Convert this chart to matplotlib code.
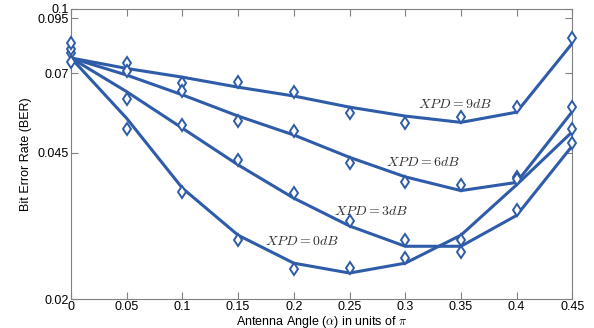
import matplotlib
matplotlib.use("Agg")
import matplotlib.pyplot as plt
from matplotlib.ticker import FixedLocator, NullLocator, FixedFormatter

plt.rcParams['font.family'] = ['Liberation Sans', 'DejaVu Sans']
plt.rcParams['mathtext.fontset'] = 'cm'

angle = [0, 0.05, 0.1, 0.15, 0.2, 0.25, 0.3, 0.35, 0.4, 0.45]

# analytical curves (lines)
line_9db = [0.0762, 0.0719, 0.0685, 0.0648, 0.0617, 0.0580, 0.0552, 0.0533, 0.0564, 0.0827]
line_6db = [0.0762, 0.0693, 0.0621, 0.0552, 0.0497, 0.0439, 0.0394, 0.0365, 0.0382, 0.0566]
line_3db = [0.0762, 0.0632, 0.0516, 0.0421, 0.0350, 0.0300, 0.0268, 0.0268, 0.0318, 0.0468]
line_0db = [0.0762, 0.0545, 0.0370, 0.0285, 0.0244, 0.0231, 0.0244, 0.0285, 0.0377, 0.0506]

# simulated points (markers)
sim_9db = [0.0785, 0.0742, 0.0664, 0.0667, 0.0632, 0.0562, 0.0532, 0.0548, 0.0580, 0.0853]
sim_6db = [0.0746, 0.0709, 0.0633, 0.0536, 0.0509, 0.0426, 0.0382, 0.0377, 0.0393, 0.0581]
sim_3db = [0.0799, 0.0608, 0.0524, 0.0433, 0.0360, 0.0308, 0.0278, 0.0260, 0.0328, 0.0475]
sim_0db = [0.0827, 0.0513, 0.0362, 0.0278, 0.0236, 0.0237, 0.0251, 0.0278, 0.0389, 0.0513]

labels = [r'$XPD=9dB$', r'$XPD=6dB$', r'$XPD=3dB$', r'$XPD=0dB$']
label_pos = [(0.3447, 0.0590), (0.316, 0.0428), (0.2694, 0.0326), (0.2074, 0.0276)]

yticks = [0.02, 0.045, 0.07, 0.095, 0.1]
ytick_labels = ['0.02', '0.045', '0.07', '0.095', '0.1']
xticks = angle
xtick_labels = ['0', '0.05', '0.1', '0.15', '0.2', '0.25', '0.3', '0.35', '0.4', '0.45']

color = '#2f5ca8'

fig = plt.figure(figsize=(5.94, 3.28), dpi=100)
ax = fig.add_axes([0.1195, 0.0884, 0.844, 0.8842])

for ln, sim in zip([line_9db, line_6db, line_3db, line_0db],
                   [sim_9db, sim_6db, sim_3db, sim_0db]):
    ax.plot(angle, ln, color=color, lw=2.2, zorder=3)
    ax.plot(angle, sim, linestyle='none', marker='d', markersize=6,
            markerfacecolor='white', markeredgecolor=color, markeredgewidth=1.4,
            zorder=4, clip_on=False)

for txt, (x, y) in zip(labels, label_pos):
    ax.text(x, y, txt, fontsize=10, ha='center', va='center', color='#333333')

ax.set_yscale('log')
ax.set_ylim(0.02, 0.1)
ax.set_xlim(0, 0.45)
ax.yaxis.set_major_locator(FixedLocator(yticks))
ax.yaxis.set_major_formatter(FixedFormatter(ytick_labels))
ax.yaxis.set_minor_locator(NullLocator())
ax.set_xticks(xticks)
ax.set_xticklabels(xtick_labels)

ax.tick_params(direction='in', length=5, width=0.8, color='#808080', labelsize=9,
               top=True, right=True, pad=1.5)
for s in ax.spines.values():
    s.set_color('#808080')
    s.set_linewidth(0.8)

ax.set_xlabel(r'Antenna Angle ($\alpha$) in units of $\pi$', fontsize=9)
ax.xaxis.set_label_coords(0.5, -0.05)
ax.set_ylabel('Bit Error Rate (BER)', fontsize=9, labelpad=4)

fig.savefig('out.png', dpi=100)
